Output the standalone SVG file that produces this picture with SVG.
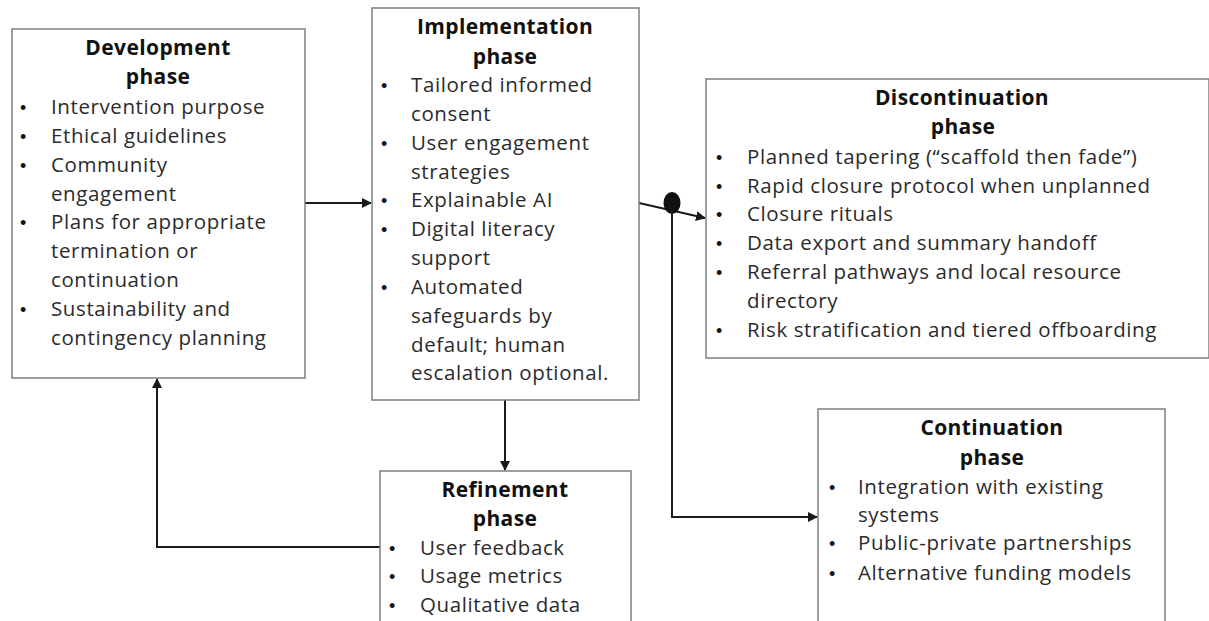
<svg xmlns="http://www.w3.org/2000/svg" width="1209" height="621" viewBox="0 0 1209 621">
<defs>
<style>
.box{fill:#fff;stroke:#7f7f7f;stroke-width:1.5}
.t{font-family:"Open Sans","Liberation Sans",sans-serif;font-size:20.5px;letter-spacing:0.6px;fill:#2b2b2b}
.h{font-family:"Open Sans","Liberation Sans",sans-serif;font-size:21px;letter-spacing:0.4px;font-weight:bold;fill:#111;text-anchor:middle}
.b{font-family:"Liberation Sans",sans-serif;font-size:18px;fill:#111}
.c{fill:none;stroke:#1a1a1a;stroke-width:2}
</style>
<marker id="arr" viewBox="0 0 10 10" refX="9" refY="5" markerWidth="5" markerHeight="5" orient="auto" markerUnits="strokeWidth">
<path d="M0,0 L10,5 L0,10 z" fill="#1a1a1a"/>
</marker>
</defs>
<rect width="1209" height="621" fill="#fff"/>

<g id="connectors">
<line class="c" x1="305" y1="203" x2="371" y2="203" marker-end="url(#arr)"/>
<line class="c" x1="639" y1="203" x2="705" y2="218" marker-end="url(#arr)"/>
<ellipse cx="672" cy="203" rx="8.5" ry="11" fill="#111"/>
<polyline class="c" points="672,210 672,517 817,517" marker-end="url(#arr)"/>
<line class="c" x1="505" y1="400" x2="505" y2="470" marker-end="url(#arr)"/>
<polyline class="c" points="380,547 157,547 157,379" marker-end="url(#arr)"/>
</g>

<g id="development">
<rect class="box" x="12" y="29" width="293" height="349"/>
<text class="h" x="158" y="55">Development</text>
<text class="h" x="158" y="84">phase</text>
<g class="b"><text x="20" y="114">•</text><text x="20" y="143">•</text><text x="20" y="172">•</text><text x="20" y="229">•</text><text x="20" y="316">•</text></g>
<text class="t" x="51" y="114">Intervention purpose</text>
<text class="t" x="51" y="143">Ethical guidelines</text>
<text class="t" x="51" y="172">Community</text>
<text class="t" x="51" y="201">engagement</text>
<text class="t" x="51" y="229">Plans for appropriate</text>
<text class="t" x="51" y="258">termination or</text>
<text class="t" x="51" y="287">continuation</text>
<text class="t" x="51" y="316">Sustainability and</text>
<text class="t" x="51" y="345">contingency planning</text>
</g>

<g id="implementation">
<rect class="box" x="372" y="8" width="267" height="392"/>
<text class="h" x="505" y="34">Implementation</text>
<text class="h" x="505" y="64">phase</text>
<g class="b"><text x="381" y="92">•</text><text x="381" y="150">•</text><text x="381" y="207">•</text><text x="381" y="236">•</text><text x="381" y="294">•</text></g>
<text class="t" x="411" y="92">Tailored informed</text>
<text class="t" x="411" y="121">consent</text>
<text class="t" x="411" y="150">User engagement</text>
<text class="t" x="411" y="179">strategies</text>
<text class="t" x="411" y="207">Explainable AI</text>
<text class="t" x="411" y="236">Digital literacy</text>
<text class="t" x="411" y="265">support</text>
<text class="t" x="411" y="294">Automated</text>
<text class="t" x="411" y="323">safeguards by</text>
<text class="t" x="411" y="352">default; human</text>
<text class="t" x="411" y="380">escalation optional.</text>
</g>

<g id="discontinuation">
<rect class="box" x="706" y="79" width="503" height="279"/>
<text class="h" x="962" y="105">Discontinuation</text>
<text class="h" x="963" y="134">phase</text>
<g class="b"><text x="716" y="164">•</text><text x="716" y="193">•</text><text x="716" y="221">•</text><text x="716" y="250">•</text><text x="716" y="279">•</text><text x="716" y="337">•</text></g>
<text class="t" x="747" y="164">Planned tapering (“scaffold then fade”)</text>
<text class="t" x="747" y="193">Rapid closure protocol when unplanned</text>
<text class="t" x="747" y="221">Closure rituals</text>
<text class="t" x="747" y="250">Data export and summary handoff</text>
<text class="t" x="747" y="279">Referral pathways and local resource</text>
<text class="t" x="747" y="308">directory</text>
<text class="t" x="747" y="337">Risk stratification and tiered offboarding</text>
</g>

<g id="continuation">
<rect class="box" x="818" y="409" width="347" height="230"/>
<text class="h" x="992" y="435">Continuation</text>
<text class="h" x="992" y="465">phase</text>
<g class="b"><text x="829" y="494">•</text><text x="829" y="550">•</text><text x="829" y="580">•</text></g>
<text class="t" x="858" y="494">Integration with existing</text>
<text class="t" x="858" y="522">systems</text>
<text class="t" x="858" y="550">Public-private partnerships</text>
<text class="t" x="858" y="580">Alternative funding models</text>
</g>

<g id="refinement">
<rect class="box" x="380" y="471" width="251" height="170"/>
<text class="h" x="505" y="497">Refinement</text>
<text class="h" x="505" y="526">phase</text>
<g class="b"><text x="389" y="555">•</text><text x="389" y="583">•</text><text x="389" y="612">•</text></g>
<text class="t" x="420" y="555">User feedback</text>
<text class="t" x="420" y="583">Usage metrics</text>
<text class="t" x="420" y="612">Qualitative data</text>
</g>
</svg>
